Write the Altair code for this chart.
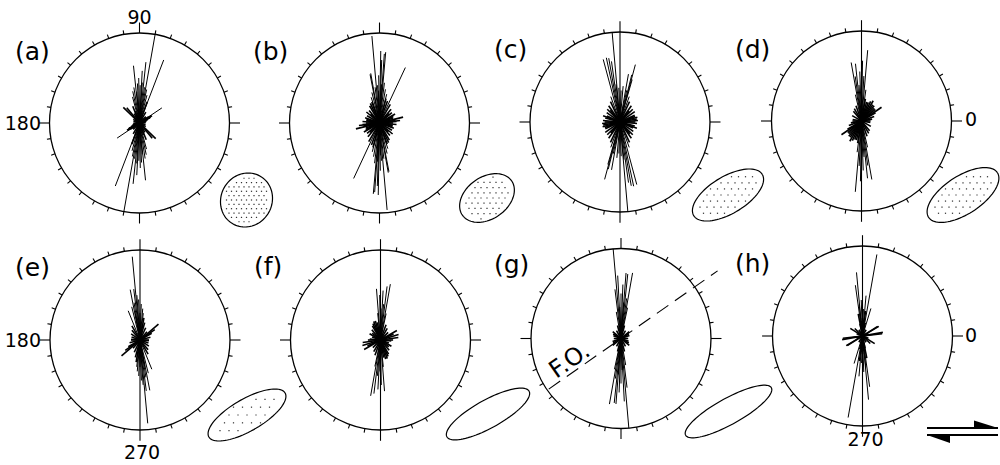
import altair as alt
import numpy as np
import pandas as pd

# ---------------- data: rose-diagram axes (deg, CCW from east) and relative lengths
ang_a = [80, 69, 96, 84, 87, 91, 93, 89, 82, 99, 78, 102, 86, 95, 75, 105, 34, 136, 30, 28, 32, 26, 35, 22, 45, 60, 110, 120, 150, 165, 5, 15, 130, 70, 112]
len_a = [1.0, 0.75, 0.64, 0.68, 0.58, 0.50, 0.44, 0.42, 0.40, 0.40, 0.38, 0.36, 0.45, 0.35, 0.32, 0.30, 0.30, 0.25, 0.16, 0.14, 0.15, 0.13, 0.12, 0.10, 0.10, 0.14, 0.14, 0.12, 0.08, 0.07, 0.07, 0.08, 0.22, 0.25, 0.20]

ang_b = [95, 65, 85, 101, 88, 91, 86, 89, 100, 14, 7, 83, 93, 97, 80, 104, 87, 76, 108, 92, 0, 10, 20, 30, 40, 50, 60, 70, 110, 120, 130, 140, 150, 160, 170, 175, 5, 45, 135, 115, 75, 165, 25]
len_b = [0.97, 0.68, 0.79, 0.55, 0.70, 0.53, 0.77, 0.80, 0.56, 0.27, 0.23, 0.45, 0.42, 0.40, 0.38, 0.35, 0.43, 0.33, 0.30, 0.36, 0.15, 0.18, 0.16, 0.20, 0.18, 0.20, 0.24, 0.26, 0.25, 0.22, 0.18, 0.19, 0.16, 0.17, 0.15, 0.19, 0.19, 0.15, 0.14, 0.24, 0.28, 0.15, 0.17]

ang_c = [95, 105, 100, 98, 75, 74, 80, 102, 76, 10, 160, 35, 85, 92, 88, 96, 78, 70, 110, 0, 15, 25, 45, 55, 65, 115, 125, 135, 145, 165, 175, 50, 130, 5, 155, 20]
len_c = [1.0, 0.72, 0.72, 0.68, 0.66, 0.49, 0.54, 0.73, 0.54, 0.19, 0.20, 0.20, 0.40, 0.38, 0.35, 0.42, 0.36, 0.30, 0.30, 0.17, 0.20, 0.18, 0.20, 0.22, 0.25, 0.25, 0.22, 0.20, 0.18, 0.17, 0.19, 0.16, 0.17, 0.20, 0.16, 0.18]

ang_d = [100, 85, 96, 89, 92, 87, 98, 34.5, 94, 82, 90, 103, 60, 65, 70, 55, 45, 30, 20, 10, 0, 170, 150, 130, 120, 110, 75, 50, 40, 80]
len_d = [0.66, 0.79, 0.64, 0.67, 0.55, 0.50, 0.50, 0.27, 0.40, 0.35, 0.38, 0.30, 0.26, 0.24, 0.22, 0.22, 0.20, 0.18, 0.15, 0.12, 0.10, 0.10, 0.12, 0.14, 0.16, 0.18, 0.22, 0.22, 0.20, 0.25]

ang_e = [95.3, 101, 40.5, 112, 97, 92, 88, 85, 99, 104, 94, 90, 80, 0, 15, 30, 50, 65, 75, 120, 130, 145, 160, 175, 35, 100, 83]
len_e = [0.93, 0.57, 0.27, 0.35, 0.57, 0.45, 0.40, 0.35, 0.42, 0.38, 0.50, 0.30, 0.25, 0.10, 0.12, 0.15, 0.12, 0.15, 0.20, 0.18, 0.14, 0.12, 0.10, 0.10, 0.20, 0.30, 0.30]

ang_f = [80, 94.5, 83, 87, 91, 17, 8, 30, 85, 89, 96, 78, 100, 110, 115, 120, 130, 140, 160, 175, 45, 60, 70, 0, 25, 150, 105]
len_f = [0.63, 0.57, 0.60, 0.55, 0.50, 0.21, 0.20, 0.21, 0.40, 0.35, 0.30, 0.30, 0.20, 0.22, 0.20, 0.18, 0.15, 0.12, 0.10, 0.12, 0.12, 0.15, 0.18, 0.14, 0.16, 0.14, 0.22]

ang_g = [95, 80, 84, 93, 85.6, 88, 90, 97, 82, 86, 92, 100, 78, 0, 20, 40, 60, 120, 140, 160, 30, 150, 75, 105]
len_g = [1.0, 0.74, 0.72, 0.70, 0.73, 0.60, 0.50, 0.55, 0.45, 0.40, 0.35, 0.30, 0.35, 0.08, 0.10, 0.12, 0.10, 0.10, 0.12, 0.09, 0.10, 0.10, 0.15, 0.15]

ang_h = [80, 95.4, 98, 73, 6.7, 10, 32.5, 30.5, 136, 148, 85, 92, 88, 96, 83, 101, 90, 87, 93, 78, 102, 60, 120, 20, 160]
len_h = [0.92, 0.71, 0.57, 0.32, 0.22, 0.23, 0.20, 0.21, 0.12, 0.16, 0.45, 0.40, 0.30, 0.35, 0.28, 0.25, 0.20, 0.18, 0.17, 0.15, 0.14, 0.08, 0.08, 0.07, 0.07]

panel_labels = ["(a)", "(b)", "(c)", "(d)", "(e)", "(f)", "(g)", "(h)"]
rose_angles = [ang_a, ang_b, ang_c, ang_d, ang_e, ang_f, ang_g, ang_h]
rose_lengths = [len_a, len_b, len_c, len_d, len_e, len_f, len_g, len_h]

# layout of the panels (pixel positions of circle centres)
center_x = [139.5, 379.5, 620, 861.5, 140, 380.5, 621, 862.5]
center_y = [123, 123, 122, 121, 340, 340, 338.5, 336]
has_ref_line = [False, False, True, True, True, True, False, True]
label_x = [15, 253, 494, 735, 15, 254, 494, 735]
label_y = [51.5, 51.5, 50, 50, 267.5, 266.5, 265, 264]
R = 90

# strain ellipses
ell_x = [246.5, 487, 728, 963, 247, 488, 728.5]
ell_y = [200, 198, 195, 195, 415, 414, 411.5]
ell_a = [27.5, 30, 40, 41, 44, 47, 49]
ell_b = [25.5, 21, 18.5, 19, 16, 14, 13]
ell_tilt = [60, 35, 31, 33, 30, 29, 29]
ell_dots = [5.0, 6.0, 7.0, 7.0, 9.0, 0, 0]

# degree labels
deg_text_c = ["90", "270", "270"]
deg_x_c = [139.5, 142, 865.5]
deg_y_c = [18, 453, 440]
deg_text_r = ["180", "180"]
deg_x_r = [41, 41]
deg_y_r = [124, 341]
deg_text_l = ["0", "0"]
deg_x_l = [965, 965]
deg_y_l = [120, 336]

# fault orientation (panel g)
fo_angle = 35

# ---------------- build tables
rows = []
for p in range(8):
    for a, L in zip(rose_angles[p], rose_lengths[p]):
        t = np.radians(a)
        dx, dy = L * R * np.cos(t), L * R * np.sin(t)
        rows.append(dict(x=center_x[p] - dx, y=center_y[p] + dy, x2=center_x[p] + dx,
                         y2=center_y[p] - dy, sw=1.6 if L < 0.3 else 1.0))
rose_df = pd.DataFrame(rows)

tick_rows = []
for p in range(8):
    for d in range(0, 360, 10):
        major = d % 90 == 0
        if has_ref_line[p] and d in (90, 270):
            continue
        ln = 10.5 if major else 4.0
        t = np.radians(d)
        tick_rows.append(dict(x=center_x[p] + R * np.cos(t), y=center_y[p] - R * np.sin(t),
                              x2=center_x[p] + (R + ln) * np.cos(t), y2=center_y[p] - (R + ln) * np.sin(t)))
    if has_ref_line[p]:
        tick_rows.append(dict(x=center_x[p], y=center_y[p] - 1.12 * R, x2=center_x[p], y2=center_y[p] + 1.12 * R))
tick_df = pd.DataFrame(tick_rows)

circ_df = pd.DataFrame({"x": center_x, "y": center_y})

ell_rows, dot_rows = [], []
for e in range(len(ell_x)):
    th = np.radians(ell_tilt[e])
    for i, ph in enumerate(np.linspace(0, 2 * np.pi, 91)):
        ux, uy = ell_a[e] * np.cos(ph), ell_b[e] * np.sin(ph)
        ell_rows.append(dict(e=e, i=i, x=ell_x[e] + ux * np.cos(th) - uy * np.sin(th),
                             y=ell_y[e] - (ux * np.sin(th) + uy * np.cos(th))))
    s = ell_dots[e]
    if s > 0:
        nr = int(ell_a[e] / s) + 2
        for j in range(-nr, nr + 1):
            for k in range(-nr, nr + 1):
                px = ell_x[e] + k * s + (s / 2 if j % 2 else 0)
                py = ell_y[e] + j * s * 0.87
                dxu, dyu = px - ell_x[e], -(py - ell_y[e])
                u = dxu * np.cos(th) + dyu * np.sin(th)
                v = -dxu * np.sin(th) + dyu * np.cos(th)
                if (u / ell_a[e]) ** 2 + (v / ell_b[e]) ** 2 < 0.75:
                    dot_rows.append(dict(x=px, y=py))
ell_df = pd.DataFrame(ell_rows)
dot_df = pd.DataFrame(dot_rows)

gcx, gcy = center_x[6], center_y[6]
ft = np.radians(fo_angle)
fo_df = pd.DataFrame([dict(x=gcx - 0.98 * R * np.cos(ft), y=gcy + 0.98 * R * np.sin(ft),
                           x2=gcx + 1.31 * R * np.cos(ft), y2=gcy - 1.31 * R * np.sin(ft))])
fo_text_df = pd.DataFrame({"x": [570], "y": [361], "t": ["F.O."]})

arrow_lines = pd.DataFrame({"x": [927, 927], "x2": [998, 998], "y": [428, 435], "y2": [428, 435]})
arrow_heads = pd.DataFrame({"g": ["t", "t", "b", "b"], "x": [974, 998, 927, 950],
                            "y": [428, 428, 435, 435], "y2": [420.5, 428, 435, 443]})

# ---------------- encodings
XS = alt.Scale(domain=[0, 1000], nice=False, zero=False)
YS = alt.Scale(domain=[465, 0], nice=False, zero=False)


def X():
    return alt.X("x:Q", scale=XS, axis=None)


def Y():
    return alt.Y("y:Q", scale=YS, axis=None)


FONT = "DejaVu Sans"

rose = alt.Chart(rose_df).mark_rule(color="black").encode(
    x=X(), y=Y(), x2="x2:Q", y2="y2:Q", strokeWidth=alt.StrokeWidth("sw:Q", scale=None))
ticks = alt.Chart(tick_df).mark_rule(color="black", strokeWidth=1.1).encode(
    x=X(), y=Y(), x2="x2:Q", y2="y2:Q")
circles = alt.Chart(circ_df).mark_point(shape="circle", filled=False, color="black", opacity=1,
                                        strokeWidth=1.3, size=(2 * R) ** 2).encode(x=X(), y=Y())
ellipses = alt.Chart(ell_df).mark_line(color="black", strokeWidth=1.2).encode(
    x=X(), y=Y(), detail="e:N", order="i:Q")
dots = alt.Chart(dot_df).mark_square(color="#333", size=1.5, opacity=1).encode(x=X(), y=Y())
fo_line = alt.Chart(fo_df).mark_rule(color="black", strokeWidth=1.1, strokeDash=[14, 8]).encode(
    x=X(), y=Y(), x2="x2:Q", y2="y2:Q")
fo_text = alt.Chart(fo_text_df).mark_text(font=FONT, fontSize=24, angle=325, align="center",
                                          baseline="middle", color="black").encode(x=X(), y=Y(), text="t:N")
labels = alt.Chart(pd.DataFrame({"x": label_x, "y": label_y, "t": panel_labels})).mark_text(
    font=FONT, fontSize=25, align="left", baseline="middle", color="black").encode(x=X(), y=Y(), text="t:N")
deg_c = alt.Chart(pd.DataFrame({"x": deg_x_c, "y": deg_y_c, "t": deg_text_c})).mark_text(
    font=FONT, fontSize=19, align="center", baseline="middle", color="black").encode(x=X(), y=Y(), text="t:N")
deg_r = alt.Chart(pd.DataFrame({"x": deg_x_r, "y": deg_y_r, "t": deg_text_r})).mark_text(
    font=FONT, fontSize=19, align="right", baseline="middle", color="black").encode(x=X(), y=Y(), text="t:N")
deg_l = alt.Chart(pd.DataFrame({"x": deg_x_l, "y": deg_y_l, "t": deg_text_l})).mark_text(
    font=FONT, fontSize=19, align="left", baseline="middle", color="black").encode(x=X(), y=Y(), text="t:N")
arr_l = alt.Chart(arrow_lines).mark_rule(color="black", strokeWidth=2).encode(
    x=X(), y=Y(), x2="x2:Q", y2="y2:Q")
arr_h = alt.Chart(arrow_heads).mark_area(color="black", opacity=1).encode(
    x=X(), y=Y(), y2="y2:Q", detail="g:N")

chart = alt.layer(dots, ellipses, circles, ticks, rose, fo_line, fo_text, labels, deg_c, deg_r, deg_l,
                  arr_l, arr_h).properties(
    width=1000, height=465, padding=0, autosize=alt.AutoSizeParams(type="none")
).configure_view(stroke=None)

chart.save("out.html", embed_options={"renderer": "svg", "actions": False})
